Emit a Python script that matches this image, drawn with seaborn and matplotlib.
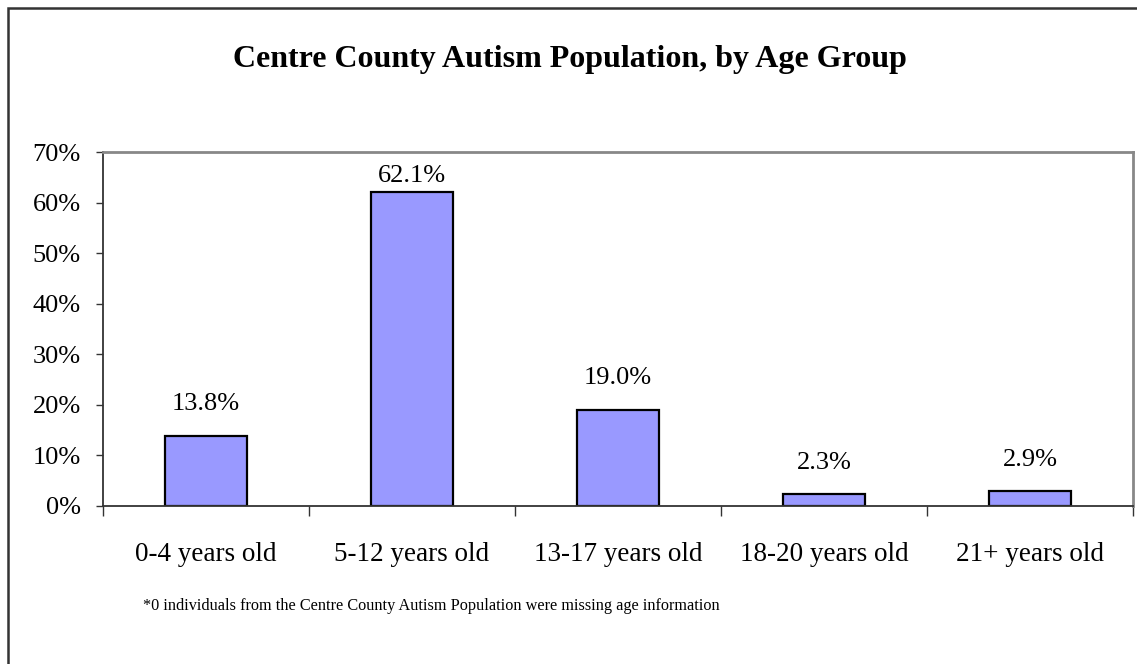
import matplotlib.pyplot as plt
import seaborn as sns
import pandas as pd
from matplotlib.patches import Rectangle
from matplotlib.ticker import FixedLocator, PercentFormatter

age_groups = ["0-4 years old", "5-12 years old", "13-17 years old",
              "18-20 years old", "21+ years old"]
shares = [13.8, 62.1, 19.0, 2.3, 2.9]

df = pd.DataFrame({"group": age_groups, "share": shares})

sns.set_theme(style="white", rc={"text.color": "black",
                                 "xtick.color": "black", "ytick.color": "black"})
plt.rcParams['font.family'] = ['Liberation Serif', 'DejaVu Serif']

fig = plt.figure(figsize=(11.37, 6.64), dpi=100)
ax = fig.add_axes([103 / 1137, 158 / 664, (1133 - 103) / 1137, (506 - 152) / 664])

sns.barplot(data=df, x="group", y="share", color="#9999FF", saturation=1,
            width=0.4, edgecolor="black", linewidth=1.6, ax=ax)

ymax = 70
ax.set_ylim(0, ymax)
ax.set_xlim(-0.5, len(age_groups) - 0.5)
ax.yaxis.set_major_locator(FixedLocator(range(0, ymax + 1, 10)))
ax.yaxis.set_major_formatter(PercentFormatter(decimals=0))
ax.tick_params(axis='y', which='major', direction='out', length=5, width=1,
               color='#333333', labelsize=19, pad=11, left=True)
ax.tick_params(axis='x', which='major', length=0, labelsize=19.5, pad=26)
ax.xaxis.set_minor_locator(FixedLocator([i - 0.5 for i in range(len(age_groups) + 1)]))
ax.tick_params(axis='x', which='minor', direction='out', length=7, width=1,
               color='#333333', bottom=True)
ax.set_xlabel("")
ax.set_ylabel("")

for side in ['top', 'right']:
    ax.spines[side].set_color('#888888')
    ax.spines[side].set_linewidth(2)
for side in ['left', 'bottom']:
    ax.spines[side].set_color('#333333')
    ax.spines[side].set_linewidth(1.3)

# labels sit above the bars, but are kept inside the plot area (like Excel)
pt_per_unit = (506 - 152) / ymax * 0.72
for i, v in enumerate(shares):
    room = (ymax - v) * pt_per_unit
    off = min(15, room - 25)
    ax.annotate(f"{v:.1f}%", (i, v), xytext=(0, off), textcoords='offset points',
                ha='center', va='bottom', fontsize=19)

fig.text(0.501, 1 - 60 / 664, "Centre County Autism Population, by Age Group",
         ha='center', va='center', fontsize=23, fontweight='bold')
fig.text(143 / 1137, 1 - 606 / 664,
         "*0 individuals from the Centre County Autism Population were missing age information",
         ha='left', va='center', fontsize=11.7)

fig.patches.append(Rectangle((8 / 1137, -0.1), 1.2, 1.1 - 8 / 664,
                             transform=fig.transFigure, fill=False,
                             edgecolor='#333333', linewidth=1.8))

fig.savefig("out.png", dpi=100)
